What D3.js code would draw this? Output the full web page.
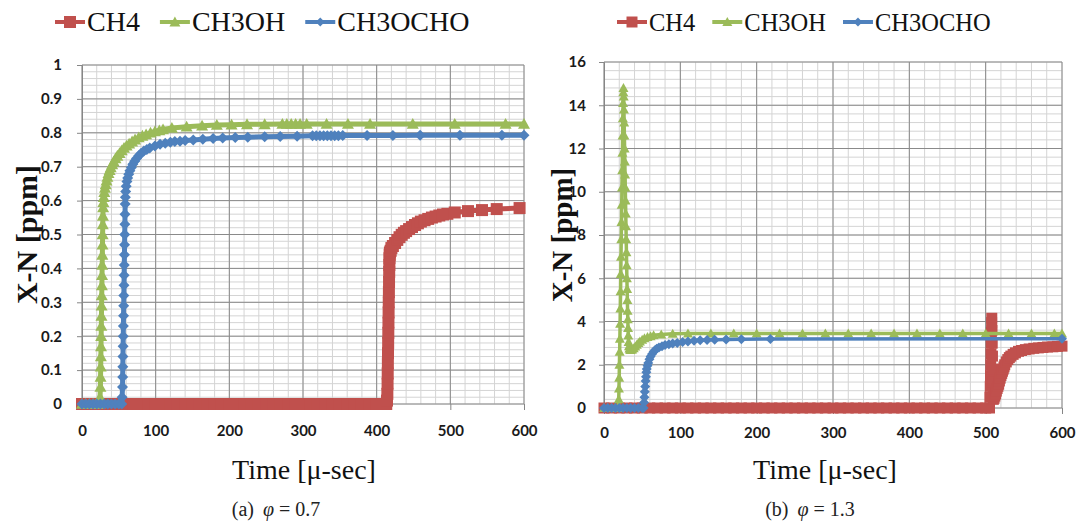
<!DOCTYPE html>
<html lang="en">
<head>
    <meta charset="UTF-8">
    <title>X-N vs time</title>
    <script src="https://d3js.org/d3.v7.min.js"></script>
    <style>
        body { margin: 0; background: #fff; }
        svg { display: block; }
        .tick text { font-family: Lato, sans-serif; font-weight: bold; font-size: 15px; fill: #1a1a1a; }
        .tick line, .domain { stroke: #868686; }
        .legend text { font-family: "Liberation Serif", serif; fill: #111; }
        .ytitle { font-family: "Liberation Serif", serif; font-weight: bold; fill: #111; }
        .xtitle { font-family: "Liberation Serif", serif; font-size: 28px; fill: #111; }
        .caption { font-family: "Liberation Serif", serif; font-size: 20px; fill: #222; }
    </style>
</head>
<body>
<svg width="1082" height="526"></svg>
<script>
    // 系列名
    const seriesNames = ["CH4", "CH3OH", "CH3OCHO"];

    // (a) phi = 0.7   [time, X-N]
    const ch4A = [
        [0,0],[10,0],[20,0],[30,0],[40,0],[50,0],[60,0],[70,0],[80,0],[90,0],
        [100,0],[110,0],[120,0],[130,0],[140,0],[150,0],[160,0],[170,0],[180,0],[190,0],
        [200,0],[210,0],[220,0],[230,0],[240,0],[250,0],[260,0],[270,0],[280,0],[290,0],
        [300,0],[310,0],[320,0],[330,0],[340,0],[350,0],[360,0],[370,0],[380,0],[390,0],
        [400,0],[410,0],[413,0],[414,0.01],[414.5,0.03],[414.8,0.06],[415,0.09],[415.2,0.12],
        [415.4,0.15],[415.6,0.18],[415.8,0.21],[416,0.24],[416.2,0.27],[416.4,0.3],[416.6,0.33],
        [416.8,0.36],[417,0.39],[417.2,0.41],[417.4,0.43],[417.7,0.44],[418,0.447],[419,0.452],
        [420,0.46],[422,0.466],[425,0.475],[428,0.484],[431,0.492],[434,0.499],[437,0.505],
        [440,0.51],[444,0.516],[448,0.522],[452,0.528],[456,0.533],[460,0.538],[465,0.542],
        [470,0.546],[475,0.55],[480,0.553],[485,0.556],[490,0.559],[496,0.561],[506,0.565],
        [524,0.569],[543,0.572],[563,0.575],[594,0.578]
    ];
    const ch3ohA = [
        [0,0],[5,0],[10,0],[15,0],[20,0],[24,0],[24.5,0.02],[25,0.05],[25.2,0.08],[25.4,0.11],
        [25.6,0.14],[25.8,0.17],[26,0.2],[26.2,0.23],[26.4,0.26],[26.6,0.29],[26.8,0.32],
        [27,0.35],[27.2,0.38],[27.4,0.41],[27.6,0.44],[27.8,0.47],[28,0.5],[28.2,0.53],
        [28.4,0.555],[28.7,0.58],[29,0.595],[29.5,0.61],[30.3,0.625],[31.2,0.637],[32.2,0.648],
        [33.3,0.659],[34.5,0.67],[36,0.681],[37.5,0.69],[39,0.698],[41,0.707],[43,0.715],
        [45.5,0.724],[48,0.732],[51,0.74],[54,0.748],[57,0.755],[60.5,0.762],[64,0.768],
        [68,0.774],[72,0.78],[77,0.786],[82,0.791],[87,0.795],[93,0.8],[99,0.804],[105,0.807],
        [110,0.81],[122,0.814],[142,0.818],[163,0.821],[183,0.823],[203,0.824],[224,0.825],
        [248,0.825],[272,0.826],[278,0.826],[284,0.826],[290,0.826],[296,0.826],[305,0.826],
        [332,0.826],[361,0.826],[391,0.826],[449,0.826],[506,0.826],[575,0.826],[600,0.826]
    ];
    const ch3ochoA = [
        [0,0],[5,0],[10,0],[15,0],[20,0],[25,0],[30,0],[35,0],[40,0],[45,0],[50,0],[54,0],
        [54.5,0.02],[55,0.05],[55.2,0.08],[55.4,0.11],[55.6,0.14],[55.8,0.17],[56,0.2],
        [56.2,0.23],[56.4,0.26],[56.6,0.29],[56.8,0.32],[57,0.35],[57.2,0.38],[57.4,0.41],
        [57.6,0.44],[57.8,0.47],[58,0.5],[58.2,0.53],[58.4,0.56],[58.6,0.59],[58.9,0.61],
        [59.3,0.627],[60,0.642],[61,0.656],[62,0.667],[63.5,0.678],[65,0.688],[67,0.698],
        [69,0.707],[71.5,0.716],[74,0.724],[77,0.732],[80,0.739],[84,0.746],[88,0.751],
        [92,0.755],[99,0.761],[106,0.766],[113,0.769],[120,0.772],[126,0.774],[133,0.775],
        [140,0.777],[151,0.779],[164,0.781],[178,0.783],[191,0.785],[208,0.786],[225,0.787],
        [248,0.788],[269,0.789],[292,0.79],[313,0.791],[318,0.791],[323,0.791],[328,0.791],
        [333,0.791],[338,0.791],[343,0.791],[348,0.791],[354,0.792],[387,0.792],[422,0.792],
        [459,0.793],[513,0.793],[570,0.793],[600,0.793]
    ];

    // (b) phi = 1.3   [time, X-N]
    const ch4B = [
        [0,0],[10,0],[20,0],[30,0],[40,0],[50,0],[60,0],[70,0],[80,0],[90,0],
        [100,0],[110,0],[120,0],[130,0],[140,0],[150,0],[160,0],[170,0],[180,0],[190,0],
        [200,0],[210,0],[220,0],[230,0],[240,0],[250,0],[260,0],[270,0],[280,0],[290,0],
        [300,0],[310,0],[320,0],[330,0],[340,0],[350,0],[360,0],[370,0],[380,0],[390,0],
        [400,0],[410,0],[420,0],[430,0],[440,0],[450,0],[460,0],[470,0],[480,0],[490,0],
        [500,0],[505,0],[505.5,0.5],[506,1],[506.3,1.5],[506.6,2],[506.9,2.5],[507.2,3],
        [507.5,3.5],[507.8,3.95],[508,4.15],[508.3,3.6],[508.6,3],[508.9,2.4],[509.2,1.8],
        [509.5,1.2],[509.8,0.7],[510,0.4],[511,0.45],[512,0.55],[513,0.65],[514,0.78],
        [515,0.9],[516,1],[517,1.1],[518,1.25],[519,1.38],[520,1.5],[521,1.6],[522,1.7],
        [523,1.8],[524,1.9],[525,2],[527,2.13],[529,2.24],[531,2.33],[533,2.4],[536,2.48],
        [539,2.55],[543,2.62],[547,2.66],[552,2.7],[557,2.73],[563,2.76],[569,2.78],
        [575,2.8],[581,2.82],[588,2.83],[594,2.85],[600,2.86]
    ];
    const ch3ohB = [
        [0,0],[5,0],[10,0],[15,0],[19,0],[19.3,0.4],[19.6,0.9],[19.9,1.4],[20.2,2],[20.5,2.6],
        [20.8,3.2],[21.1,3.9],[21.4,4.6],[21.7,5.4],[22,6.2],[22.3,7],[22.6,7.8],[22.9,8.6],
        [23.2,9.4],[23.5,10.2],[23.8,11],[24.1,11.8],[24.4,12.6],[24.7,13.4],[25,14.1],
        [25.3,14.6],[25.5,14.8],[25.8,14.4],[26.1,13.8],[26.4,13.2],[26.7,12.6],[27,12],
        [27.3,11.4],[27.6,10.8],[27.9,10.2],[28.2,9.6],[28.5,9],[28.8,8.4],[29.1,7.8],
        [29.4,7.2],[29.7,6.6],[30,6],[30.3,5.5],[30.6,5],[30.9,4.5],[31.2,4.1],[31.5,3.7],
        [31.8,3.35],[32.2,3.05],[32.7,2.85],[33.3,2.75],[34,2.7],[35,2.68],[37,2.7],[39,2.76],
        [41,2.84],[43,2.93],[45,3.01],[47,3.08],[50,3.16],[53,3.22],[57,3.28],[61,3.32],
        [65,3.36],[75,3.4],[90,3.43],[110,3.44],[140,3.45],[170,3.45],[200,3.45],[230,3.45],
        [260,3.45],[290,3.45],[320,3.45],[350,3.45],[380,3.45],[410,3.45],[440,3.45],
        [470,3.45],[500,3.45],[530,3.45],[560,3.45],[590,3.45],[600,3.45]
    ];
    const ch3ochoB = [
        [0,0],[5,0],[10,0],[15,0],[20,0],[25,0],[30,0],[35,0],[40,0],[45,0],[50,0],[52,0],
        [52.5,0.25],[53,0.5],[53.5,0.75],[54,1],[54.5,1.25],[55,1.45],[55.5,1.65],[56,1.8],
        [57,1.95],[58,2.08],[59.5,2.25],[61,2.38],[63,2.5],[65,2.6],[67,2.68],[69,2.74],
        [72,2.8],[76,2.86],[80,2.91],[85,2.95],[90,2.98],[96,3.01],[103,3.05],[110,3.08],
        [118,3.11],[126,3.13],[135,3.15],[145,3.16],[160,3.17],[180,3.18],[218,3.19],[600,3.2]
    ];

    const svg = d3.select("svg");
    const colors = ["#C0504D", "#9BBB59", "#4F81BD"];
    const shapes = ["square", "triangle", "diamond"];

    // マーカーのパス
    function markerPath(shape, s) {
        const h = s / 2;
        if (shape === "square") return `M${-h},${-h}H${h}V${h}H${-h}Z`;
        if (shape === "triangle") return `M0,${-h}L${h},${h * 0.8}L${-h},${h * 0.8}Z`;
        return `M0,${-h}L${h},0L0,${h}L${-h},0Z`;
    }

    function drawPanel(p) {
        const x = d3.scaleLinear().domain([0, 600]).range([p.left, p.right]);
        const y = d3.scaleLinear().domain([0, p.yMax]).range([p.bottom, p.top]);
        const g = svg.append("g");

        // 補助目盛線
        g.selectAll(".xminor").data(d3.range(0, 600.001, 20)).enter().append("line")
            .attr("x1", d => x(d)).attr("x2", d => x(d))
            .attr("y1", p.top).attr("y2", p.bottom)
            .style("stroke", "#d4d4d4").style("stroke-width", 1);
        g.selectAll(".yminor").data(d3.range(0, p.yMax + 1e-9, p.yMinor)).enter().append("line")
            .attr("x1", p.left).attr("x2", p.right)
            .attr("y1", d => y(d)).attr("y2", d => y(d))
            .style("stroke", "#d4d4d4").style("stroke-width", 1);

        // 主目盛線
        const xt = d3.range(0, 600.001, 100);
        const yt = y.ticks(p.yCount);
        g.selectAll(".xmajor").data(xt).enter().append("line")
            .attr("x1", d => x(d)).attr("x2", d => x(d))
            .attr("y1", p.top).attr("y2", p.bottom)
            .style("stroke", "#8a8a8a").style("stroke-width", 1);
        g.selectAll(".ymajor").data(yt).enter().append("line")
            .attr("x1", p.left).attr("x2", p.right)
            .attr("y1", d => y(d)).attr("y2", d => y(d))
            .style("stroke", "#8a8a8a").style("stroke-width", 1);

        // 軸
        g.append("g").attr("transform", `translate(0,${p.bottom})`)
            .call(d3.axisBottom(x).tickValues(xt).tickSize(6).tickPadding(p.xPad).tickFormat(d3.format("d")))
            .call(a => a.select(".domain").remove());
        g.append("g").attr("transform", `translate(${p.left},0)`)
            .call(d3.axisLeft(y).tickValues(yt).tickSize(5).tickPadding(p.yPad).tickFormat(d3.format("~g")));

        // 系列
        p.series.forEach((data, i) => {
            g.append("path")
                .datum(data)
                .attr("fill", "none")
                .attr("stroke", colors[i])
                .attr("stroke-width", p.lineW)
                .attr("stroke-linejoin", "round")
                .attr("d", d3.line().x(d => x(d[0])).y(d => y(d[1])));
            g.selectAll(".m" + i).data(data).enter().append("path")
                .attr("transform", d => `translate(${x(d[0])},${y(d[1])})`)
                .attr("d", markerPath(shapes[i], p.mk[i]))
                .attr("fill", colors[i]);
        });

        // 凡例
        const lg = g.append("g").attr("class", "legend");
        let lx = p.legendX;
        seriesNames.forEach((name, i) => {
            lg.append("line")
                .attr("x1", lx).attr("x2", lx + 30)
                .attr("y1", p.legendY - 9).attr("y2", p.legendY - 9)
                .style("stroke", colors[i]).style("stroke-width", 4);
            lg.append("path")
                .attr("transform", `translate(${lx + 15},${p.legendY - 9})`)
                .attr("d", markerPath(shapes[i], p.legendMk[i]))
                .attr("fill", colors[i]);
            const t = lg.append("text")
                .attr("x", lx + 32).attr("y", p.legendY)
                .style("font-size", p.legendSize + "px")
                .text(name);
            lx += 32 + t.node().getComputedTextLength() + p.legendGap;
        });

        // 軸タイトル
        g.append("text").attr("class", "ytitle")
            .attr("transform", `translate(${p.yTitleX},${(p.top + p.bottom) / 2}) rotate(-90)`)
            .attr("text-anchor", "middle")
            .attr("dominant-baseline", "central")
            .style("font-size", p.yTitleSize + "px")
            .text("X-N [ppm]");
        g.append("text").attr("class", "xtitle")
            .attr("x", p.xTitleX).attr("y", 479)
            .attr("text-anchor", "middle")
            .text("Time [μ-sec]");

        // キャプション
        const cap = g.append("text").attr("class", "caption")
            .attr("x", p.capX).attr("y", 516)
            .attr("text-anchor", "middle");
        cap.append("tspan").text(p.capLabel);
        cap.append("tspan").attr("dx", 9).style("font-style", "italic").text("φ");
        cap.append("tspan").attr("dx", 5).text("=");
        cap.append("tspan").attr("dx", 5).text(p.capValue);
    }

    drawPanel({
        left: 82, right: 524, top: 65, bottom: 404,
        yMax: 1, yMinor: 0.02, yCount: 10, xPad: 15, yPad: 15,
        series: [ch4A, ch3ohA, ch3ochoA],
        lineW: 5, mk: [12, 12, 11], legendMk: [12, 11, 9],
        legendX: 55, legendY: 31, legendSize: 28, legendGap: 20,
        yTitleX: 26, yTitleSize: 30, xTitleX: 304,
        capX: 276, capLabel: "(a)", capValue: "0.7"
    });
    drawPanel({
        left: 604, right: 1062, top: 62, bottom: 408,
        yMax: 16, yMinor: 0.4, yCount: 8, xPad: 13, yPad: 13,
        series: [ch4B, ch3ohB, ch3ochoB],
        lineW: 3.5, mk: [11, 10, 10], legendMk: [11, 10, 9],
        legendX: 617, legendY: 31, legendSize: 24.5, legendGap: 17,
        yTitleX: 562, yTitleSize: 29, xTitleX: 825,
        capX: 810, capLabel: "(b)", capValue: "1.3"
    });
</script>
</body>
</html>
